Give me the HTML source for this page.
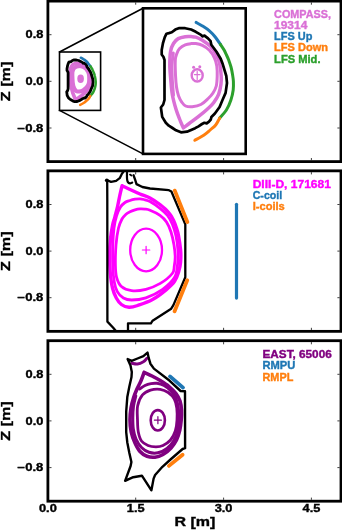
<!DOCTYPE html>
<html><head><meta charset="utf-8"><style>
html,body{margin:0;padding:0;background:#fff;width:342px;height:531px;overflow:hidden}
svg{display:block;will-change:transform}
text{font-family:"Liberation Sans",sans-serif;font-weight:bold;stroke-width:0.35px}
</style></head><body>
<svg width="342" height="531" viewBox="0 0 342 531">
<rect width="342" height="531" fill="#fff"/>
<g>
<path d="M75.7,100.0 C75.5,99.5 75.0,98.5 74.5,97.3 C74.0,96.1 73.3,94.4 72.7,92.6 C72.2,90.9 71.6,88.8 71.3,86.8 C70.9,84.8 70.8,82.8 70.6,80.8 C70.5,78.8 70.2,76.7 70.2,74.7 C70.2,72.8 70.3,70.6 70.5,69.2 C70.8,67.8 71.2,67.0 71.7,66.1 C72.2,65.3 72.8,64.6 73.6,64.2 C74.4,63.7 75.5,63.5 76.4,63.4 C77.2,63.3 78.0,63.3 78.7,63.4 C79.5,63.4 79.9,63.3 80.6,63.6 C81.4,63.8 82.3,64.2 83.3,64.8 C84.2,65.4 85.5,66.2 86.4,67.2 C87.4,68.1 88.2,69.3 88.8,70.5 C89.4,71.7 89.9,73.0 90.2,74.5 C90.6,75.9 90.7,77.8 90.8,79.2 C90.9,80.5 90.9,81.1 90.7,82.4 C90.5,83.6 90.2,85.2 89.8,86.5 C89.3,87.7 88.5,88.9 87.8,89.9 C87.0,90.8 86.4,91.4 85.3,92.4 C84.3,93.3 82.7,94.6 81.5,95.6 C80.3,96.5 79.0,97.5 78.0,98.2 C77.0,98.9 76.1,99.7 75.7,100.0" fill="none" stroke="#da70d6" stroke-width="3.6" stroke-linejoin="round" stroke-linecap="round" />
<path d="M71.7,86.8 C71.6,85.8 71.3,82.8 71.2,80.8 C71.1,78.8 71.0,76.5 71.1,74.7 C71.2,72.9 71.5,70.7 71.6,69.9" fill="none" stroke="#da70d6" stroke-width="4.0" stroke-linejoin="round" stroke-linecap="round" />
<path d="M72.4,72.7 C72.5,71.3 72.7,71.0 73.0,70.2 C73.3,69.4 73.6,68.8 74.1,68.2 C74.7,67.6 75.6,67.0 76.4,66.6 C77.2,66.3 78.0,66.2 78.7,66.2 C79.5,66.1 79.9,66.0 80.6,66.2 C81.4,66.3 82.4,66.4 83.3,66.9 C84.2,67.3 85.3,68.0 86.1,68.8 C86.9,69.7 87.6,70.9 88.1,71.9 C88.6,73.0 88.9,73.9 89.0,75.1 C89.2,76.3 89.2,77.8 89.2,79.2 C89.2,80.5 89.1,82.0 88.8,83.2 C88.6,84.3 88.1,85.1 87.5,86.0 C87.0,86.8 86.4,87.4 85.6,88.2 C84.8,88.9 83.7,90.0 82.7,90.6 C81.6,91.1 80.2,91.4 79.2,91.5 C78.2,91.6 77.2,91.5 76.5,91.2 C75.9,90.9 75.5,90.4 75.1,89.7 C74.6,89.0 74.1,88.2 73.7,87.2 C73.4,86.2 73.1,85.0 72.9,83.6 C72.7,82.2 72.6,80.6 72.5,78.8 C72.4,76.9 72.3,74.2 72.4,72.7 Z" fill="none" stroke="#da70d6" stroke-width="4.0" stroke-linejoin="round" stroke-linecap="round" />
<ellipse cx="80.6" cy="78.7" rx="3.3" ry="4.2" fill="#da70d6"/>
<path d="M68.9,62.2 L69.9,61.9 L71.0,61.6 L72.4,60.5 L74.1,59.9 L76.4,60.0 L78.7,60.5 L80.6,61.4 L82.7,62.6 L83.3,63.3 L84.1,63.0 L85.5,64.1 L86.6,65.2 L86.8,66.6 L88.9,69.4 L90.6,72.2 L91.4,74.5 L92.8,79.2 L93.1,82.0 L92.6,85.9 L91.3,88.8 L90.2,91.6 L88.3,94.2 L86.9,95.6 L86.6,96.6 L85.9,97.4 L85.0,98.2 L84.1,97.9 L83.1,98.4 L81.7,99.3 L80.4,100.1 L77.1,101.5 L74.7,101.7 L72.7,100.9 L71.3,100.0 L69.8,99.1 L68.6,97.9 L67.2,95.6 L66.7,91.8 L67.6,90.6 L68.1,88.8 L68.1,72.7 L67.7,71.5 L67.0,70.5 L67.0,68.7 L67.5,65.9 L68.2,63.6 Z" fill="none" stroke="#000" stroke-width="2.8" stroke-linejoin="round" stroke-linecap="round" />
<path d="M80.8,57.7 C81.2,57.9 82.4,58.5 83.3,59.1 C84.2,59.6 85.2,60.3 86.1,61.0 C86.9,61.7 87.5,62.4 88.2,63.3 C89.0,64.2 90.1,65.9 90.5,66.4" fill="none" stroke="#1f77b4" stroke-width="2.5" stroke-linejoin="round" stroke-linecap="round" stroke-linecap="butt"/>
<path d="M90.5,66.4 C90.7,66.8 91.5,68.0 92.0,68.7 C92.4,69.4 92.6,70.1 92.9,70.7 C93.2,71.4 93.5,71.9 93.8,72.7 C94.1,73.5 94.5,74.5 94.7,75.5 C95.0,76.5 95.2,77.8 95.4,78.8 C95.5,79.7 95.6,80.4 95.7,81.4 C95.7,82.4 95.8,83.5 95.6,84.8 C95.4,86.0 95.1,87.4 94.7,88.8 C94.2,90.1 93.6,91.6 92.9,92.8 C92.1,94.0 90.6,95.5 90.2,96.1" fill="none" stroke="#2ca02c" stroke-width="2.5" stroke-linejoin="round" stroke-linecap="round" stroke-linecap="butt"/>
<path d="M90.2,96.1 C89.9,96.5 89.2,98.0 88.6,98.8 C88.0,99.6 87.2,100.1 86.4,100.8 C85.6,101.5 85.0,102.1 84.0,102.8 C82.9,103.5 80.9,104.6 80.2,104.9" fill="none" stroke="#ff7f0e" stroke-width="2.5" stroke-linejoin="round" stroke-linecap="round" stroke-linecap="butt"/>
<rect x="59.5" y="52.0" width="41.1" height="58.4" fill="none" stroke="#000" stroke-width="1.6"/>
<path d="M59.5,52.0 L143.0,8.3 M59.5,110.4 L143.0,153.9" fill="none" stroke="#000" stroke-width="1.6" stroke-linejoin="round" stroke-linecap="round" />
<rect x="143.0" y="8.3" width="102.7" height="145.6" fill="#fff" stroke="#000" stroke-width="2.6"/>
<path d="M183.4,127.9 C182.9,126.8 181.7,124.3 180.5,121.3 C179.3,118.2 177.4,114.0 176.1,109.6 C174.8,105.2 173.3,99.9 172.4,95.0 C171.5,90.1 171.2,85.0 170.8,80.0 C170.4,75.0 169.8,69.8 169.8,65.0 C169.8,60.2 170.0,54.8 170.6,51.2 C171.2,47.6 172.2,45.6 173.5,43.5 C174.8,41.4 176.2,39.7 178.2,38.6 C180.1,37.5 183.0,37.0 185.2,36.7 C187.3,36.4 189.3,36.5 191.1,36.6 C192.9,36.7 193.9,36.6 195.8,37.2 C197.7,37.8 200.0,38.8 202.4,40.3 C204.8,41.8 208.0,43.7 210.3,46.1 C212.6,48.5 214.6,51.5 216.2,54.5 C217.8,57.5 219.0,60.7 219.8,64.3 C220.6,67.9 221.0,72.7 221.2,76.0 C221.4,79.3 221.4,81.0 221.0,84.0 C220.6,87.0 219.8,91.2 218.6,94.3 C217.4,97.4 215.4,100.2 213.6,102.7 C211.8,105.2 210.1,106.6 207.5,109.0 C204.9,111.4 201.1,114.5 198.0,116.9 C194.9,119.3 191.6,121.7 189.2,123.5 C186.8,125.3 184.4,127.2 183.4,127.9" fill="none" stroke="#da70d6" stroke-width="3.5" stroke-linejoin="round" stroke-linecap="round" />
<path d="M173.5,95.0 C173.3,92.5 172.6,85.0 172.3,80.0 C172.1,75.0 171.8,69.5 172.0,65.0 C172.2,60.5 173.1,55.0 173.3,53.0" fill="none" stroke="#da70d6" stroke-width="3.0" stroke-linejoin="round" stroke-linecap="round" />
<path d="M175.3,60.0 C175.5,56.5 176.1,55.6 176.8,53.7 C177.5,51.8 178.2,50.1 179.6,48.6 C181.0,47.1 183.3,45.6 185.2,44.8 C187.1,44.0 189.3,43.8 191.1,43.6 C192.9,43.4 193.9,43.3 195.8,43.6 C197.7,43.9 200.1,44.3 202.4,45.4 C204.7,46.5 207.4,48.2 209.4,50.3 C211.4,52.4 213.3,55.4 214.5,58.0 C215.7,60.6 216.4,63.0 216.8,66.0 C217.2,69.0 217.3,72.7 217.2,76.0 C217.1,79.3 217.0,83.2 216.3,86.0 C215.6,88.8 214.3,90.9 213.0,93.0 C211.7,95.1 210.2,96.6 208.2,98.5 C206.2,100.4 203.6,103.1 200.9,104.5 C198.2,105.9 194.8,106.5 192.2,106.8 C189.6,107.0 187.3,106.8 185.6,106.0 C183.9,105.2 183.1,104.0 181.9,102.3 C180.7,100.6 179.5,98.5 178.6,96.0 C177.7,93.5 177.0,90.5 176.5,87.0 C176.0,83.5 175.7,79.5 175.5,75.0 C175.3,70.5 175.1,63.5 175.3,60.0 Z" fill="none" stroke="#da70d6" stroke-width="3.0" stroke-linejoin="round" stroke-linecap="round" />
<ellipse cx="197.2" cy="75.4" rx="5.50" ry="6.10" fill="none" stroke="#da70d6" stroke-width="2.4"/>
<path d="M197.2,71.4 v8 M194.4,74.6 h5.6" fill="none" stroke="#da70d6" stroke-width="1.2" stroke-linejoin="round" stroke-linecap="round" />
<circle cx="193.6" cy="67.2" r="1.5" fill="#da70d6"/><circle cx="199.8" cy="66.7" r="1.5" fill="#da70d6"/>
<path d="M166.5,33.7 L168.9,33.1 L171.8,32.3 L175.3,29.6 L179.4,28.0 L185.2,28.2 L191.1,29.5 L195.8,31.8 L201.0,34.8 L202.4,36.4 L204.5,35.6 L208.0,38.4 L210.6,41.2 L211.3,44.7 L216.5,51.7 L220.7,58.7 L222.8,64.3 L226.3,76.0 L227.0,83.0 L225.6,92.9 L222.5,100.0 L219.6,107.0 L214.9,113.5 L211.4,117.0 L210.8,119.5 L209.0,121.6 L206.7,123.4 L204.4,122.8 L202.0,124.0 L198.5,126.3 L195.2,128.2 L187.0,131.7 L181.0,132.3 L176.0,130.3 L172.5,128.0 L168.8,125.7 L165.8,122.8 L162.2,116.9 L160.9,107.5 L163.2,104.5 L164.5,100.0 L164.5,60.0 L163.5,57.0 L161.7,54.5 L161.7,50.0 L163.0,43.0 L164.8,37.2 Z" fill="none" stroke="#000" stroke-width="2.7" stroke-linejoin="round" stroke-linecap="round" />
<path d="M196.1,22.4 C197.2,23.0 200.2,24.5 202.4,25.9 C204.6,27.3 207.3,29.0 209.4,30.8 C211.5,32.6 213.0,34.2 214.8,36.5 C216.6,38.8 219.5,43.0 220.4,44.3" fill="none" stroke="#1f77b4" stroke-width="3.0" stroke-linejoin="round" stroke-linecap="round" stroke-linecap="butt"/>
<path d="M220.4,44.3 C221.0,45.2 223.1,48.2 224.1,50.0 C225.1,51.8 225.7,53.3 226.5,55.0 C227.3,56.7 227.9,58.0 228.7,60.0 C229.4,62.0 230.3,64.5 231.0,67.0 C231.7,69.5 232.2,72.6 232.6,75.0 C233.0,77.4 233.3,79.0 233.4,81.5 C233.5,84.0 233.6,86.9 233.2,90.0 C232.8,93.1 232.0,96.7 230.9,100.0 C229.8,103.3 228.3,107.0 226.4,110.0 C224.5,113.0 220.7,116.8 219.6,118.2" fill="none" stroke="#2ca02c" stroke-width="3.0" stroke-linejoin="round" stroke-linecap="round" stroke-linecap="butt"/>
<path d="M219.6,118.2 C218.9,119.3 217.3,123.0 215.7,125.0 C214.1,127.0 212.1,128.3 210.2,130.0 C208.3,131.7 206.7,133.3 204.1,135.0 C201.5,136.7 196.4,139.4 194.8,140.3" fill="none" stroke="#ff7f0e" stroke-width="3.0" stroke-linejoin="round" stroke-linecap="round" stroke-linecap="butt"/>
<path d="M122.1,185.7 C123.4,186.3 127.0,188.1 130.0,189.5 C133.0,190.9 136.7,192.6 140.0,194.0 C143.3,195.4 146.7,196.2 150.0,198.0 C153.3,199.8 157.3,202.5 160.0,204.5 C162.7,206.5 164.2,208.1 166.0,209.8 C167.8,211.6 169.2,213.2 170.5,215.0 C171.8,216.8 172.6,218.4 173.6,220.5 C174.6,222.6 175.5,225.1 176.3,227.5 C177.1,229.9 177.7,231.2 178.4,235.0 C179.1,238.8 180.2,245.5 180.6,250.0 C181.0,254.5 180.9,258.3 180.6,262.0 C180.3,265.7 179.6,268.8 178.6,272.0 C177.6,275.2 176.6,278.5 174.6,281.4 C172.6,284.3 170.2,286.5 166.4,289.6 C162.7,292.7 156.9,297.2 152.1,299.8 C147.3,302.4 141.5,304.2 137.7,305.5 C133.8,306.8 131.7,307.5 129.0,307.3 C126.3,307.1 123.5,306.1 121.4,304.5 C119.3,302.9 117.8,300.8 116.3,298.0 C114.8,295.2 113.5,292.2 112.5,288.0 C111.5,283.8 110.8,278.5 110.3,273.0 C109.8,267.5 109.5,260.8 109.6,255.0 C109.6,249.2 110.1,243.0 110.6,238.0 C111.1,233.0 111.9,228.5 112.6,225.0 C113.3,221.5 114.1,219.9 114.9,216.8 C115.7,213.7 116.8,209.9 117.6,206.3 C118.4,202.7 119.2,198.4 119.9,195.0 C120.7,191.6 121.7,187.2 122.1,185.7" fill="none" stroke="#ff00ff" stroke-width="3.4" stroke-linejoin="round" stroke-linecap="round" />
<path d="M116.5,216.0 C117.6,212.5 119.1,209.2 120.5,207.0 C121.9,204.8 123.4,203.6 125.0,202.5 C126.6,201.4 128.3,201.1 130.0,200.5 C131.7,199.9 133.3,199.5 135.0,199.2 C136.7,198.9 138.3,198.7 140.0,198.8 C141.7,198.9 143.3,199.4 145.0,199.8 C146.7,200.2 147.5,200.1 150.0,201.5 C152.5,202.9 157.1,206.0 160.0,208.3 C162.9,210.6 165.4,212.8 167.5,215.5 C169.6,218.2 171.1,221.1 172.5,224.5 C173.9,227.9 175.1,231.8 176.0,236.0 C176.9,240.2 177.6,245.3 177.9,250.0 C178.2,254.7 178.2,259.4 177.6,264.0 C177.0,268.6 177.1,273.0 174.6,277.3 C172.1,281.6 167.1,286.2 162.3,289.6 C157.5,293.0 151.0,296.1 145.9,297.8 C140.8,299.5 135.3,300.0 131.6,300.0 C127.8,300.0 125.8,299.4 123.4,298.0 C121.0,296.6 118.8,294.3 117.3,291.6 C115.8,288.9 115.0,286.3 114.3,282.0 C113.5,277.7 113.0,272.2 112.8,266.0 C112.5,259.8 112.6,251.3 112.8,245.0 C113.0,238.7 113.4,232.8 114.0,228.0 C114.6,223.2 115.4,219.5 116.5,216.0 Z" fill="none" stroke="#ff00ff" stroke-width="2.8" stroke-linejoin="round" stroke-linecap="round" />
<path d="M118.5,228.0 C119.5,223.7 120.8,221.3 122.0,219.0 C123.2,216.7 124.7,215.4 126.0,214.2 C127.3,213.0 128.5,212.5 130.0,211.8 C131.5,211.1 133.3,210.3 135.0,209.8 C136.7,209.3 138.3,209.0 140.0,208.9 C141.7,208.8 143.3,208.9 145.0,209.1 C146.7,209.3 147.5,209.2 150.0,210.2 C152.5,211.2 157.2,213.3 160.0,215.3 C162.8,217.3 164.7,219.2 166.5,222.0 C168.3,224.8 169.8,228.2 171.0,232.0 C172.2,235.8 173.3,240.8 174.0,245.0 C174.7,249.2 175.1,253.5 175.2,257.0 C175.2,260.5 174.8,263.2 174.3,266.0 C173.8,268.8 174.6,270.6 172.3,273.5 C170.0,276.4 164.7,280.8 160.3,283.4 C155.9,286.0 150.7,288.1 145.9,289.3 C141.1,290.5 135.7,291.1 131.6,290.6 C127.5,290.1 123.9,288.7 121.4,286.5 C118.9,284.3 117.6,280.9 116.6,277.3 C115.6,273.7 115.5,270.4 115.4,265.0 C115.3,259.6 115.5,251.2 116.0,245.0 C116.5,238.8 117.5,232.3 118.5,228.0 Z" fill="none" stroke="#ff00ff" stroke-width="2.8" stroke-linejoin="round" stroke-linecap="round" />
<ellipse cx="146.1" cy="250.0" rx="15.9" ry="21.3" fill="none" stroke="#ff00ff" stroke-width="2.3"/>
<path d="M146.1,246.3 v7.4 M142.4,250 h7.4" fill="none" stroke="#ff00ff" stroke-width="1.2" stroke-linejoin="round" stroke-linecap="round" />
<path d="M123.4,171.9 L121.9,173.8 L119.7,178.2 L116.1,180.9 L111.0,181.9 L107.2,180.3 L107.3,200.0 L107.4,321.6 L113.2,327.7 L115.5,330.5" fill="none" stroke="#000" stroke-width="2.3" stroke-linejoin="round" stroke-linecap="round" />
<path d="M128.0,331.0 L128.0,323.3 L150.9,323.3 L152.6,320.7 L171.2,308.7 L173.4,305.1 L185.3,277.3 L185.3,224.4 L171.4,191.5 L168.9,190.2 L150.0,188.5 L142.4,187.0 L136.5,184.1 L135.1,179.7 L133.6,175.3" fill="none" stroke="#000" stroke-width="2.3" stroke-linejoin="round" stroke-linecap="round" />
<path d="M127.0,172.4 C127.0,173.4 126.9,176.6 127.0,178.2 C127.1,179.8 127.3,181.0 127.8,181.9 C128.3,182.8 129.3,183.3 130.0,183.4 C130.7,183.5 131.8,182.7 132.2,182.6" fill="none" stroke="#000" stroke-width="2.2" stroke-linejoin="round" stroke-linecap="round" />
<path d="M130.0,174.6 L131.4,175.6" fill="none" stroke="#000" stroke-width="1.8" stroke-linejoin="round" stroke-linecap="round" />
<circle cx="106.8" cy="180.3" r="1.9" fill="#000"/>
<path d="M174.8,190.6 L187.3,222.0 M187.2,280.3 L174.6,311.3" fill="none" stroke="#ff7f0e" stroke-width="3.8" stroke-linejoin="round" stroke-linecap="round" stroke-linecap="butt"/>
<path d="M236.5,204.3 V298.1" fill="none" stroke="#1f77b4" stroke-width="3.2" stroke-linejoin="round" stroke-linecap="round" />
<path d="M144.1,372.4 C145.4,373.0 149.3,374.6 152.0,376.0 C154.7,377.4 157.4,378.8 160.2,380.5 C163.0,382.2 166.4,384.3 169.0,386.5 C171.6,388.7 174.2,391.1 176.0,393.5 C177.8,395.9 179.1,398.2 180.0,401.0 C180.9,403.8 181.3,406.8 181.5,410.0 C181.7,413.2 181.5,416.7 181.2,420.0 C180.9,423.3 180.6,426.7 179.8,430.0 C179.0,433.3 178.0,437.0 176.5,440.0 C175.0,443.0 173.2,445.6 171.0,448.0 C168.8,450.4 165.7,453.0 163.0,454.5 C160.3,456.0 157.7,456.9 155.0,457.2 C152.3,457.5 149.5,457.2 147.0,456.3 C144.5,455.4 142.0,453.7 140.0,451.5 C138.0,449.3 136.5,446.2 135.0,443.0 C133.5,439.8 132.0,435.8 131.2,432.0 C130.4,428.2 130.0,424.0 130.0,420.0 C130.0,416.0 130.4,411.7 131.0,408.0 C131.6,404.3 132.5,401.2 133.5,398.0 C134.5,394.8 135.8,391.8 137.0,389.0 C138.2,386.2 139.7,383.8 140.9,381.0 C142.1,378.2 143.6,373.8 144.1,372.4" fill="none" stroke="#800080" stroke-width="3.6" stroke-linejoin="round" stroke-linecap="round" />
<path d="M139.5,389.0 C140.4,388.4 143.1,386.4 145.0,385.5 C146.9,384.6 149.0,384.0 151.0,383.6 C153.0,383.2 154.8,383.0 157.0,383.3 C159.2,383.6 161.8,384.3 164.0,385.5 C166.2,386.7 168.6,388.5 170.5,390.5 C172.4,392.5 174.2,394.8 175.5,397.5 C176.8,400.2 177.6,403.2 178.2,407.0 C178.8,410.8 178.9,416.0 178.8,420.0 C178.7,424.0 178.4,427.5 177.5,431.0 C176.6,434.5 175.2,438.1 173.5,441.0 C171.8,443.9 169.6,446.5 167.0,448.5 C164.4,450.5 161.0,452.2 158.0,452.8 C155.0,453.4 151.8,453.2 149.0,452.3 C146.2,451.4 143.7,449.7 141.5,447.5 C139.3,445.3 137.4,442.1 136.0,439.0 C134.6,435.9 133.8,432.5 133.3,429.0 C132.8,425.5 132.8,421.8 132.8,418.0 C132.8,414.2 133.0,409.7 133.5,406.0 C134.0,402.3 135.4,397.7 135.8,396.0" fill="none" stroke="#800080" stroke-width="3.0" stroke-linejoin="round" stroke-linecap="round" />
<path d="M137.6,406.0 C138.4,401.8 140.3,397.5 142.5,394.9 C144.7,392.2 147.6,391.0 150.5,390.1 C153.4,389.2 157.2,388.9 160.2,389.3 C163.1,389.7 165.8,390.9 168.2,392.5 C170.5,394.1 172.9,396.4 174.3,399.0 C175.7,401.6 176.4,404.5 176.8,408.0 C177.2,411.5 177.2,416.2 177.0,420.0 C176.8,423.8 176.4,427.7 175.3,431.0 C174.2,434.3 172.6,437.6 170.5,440.0 C168.4,442.4 165.4,444.4 163.0,445.5 C160.6,446.6 158.5,446.8 156.0,446.8 C153.5,446.8 150.4,446.5 148.0,445.5 C145.6,444.5 143.1,443.2 141.5,441.0 C139.9,438.8 139.0,435.5 138.3,432.0 C137.6,428.5 137.6,424.3 137.5,420.0 C137.4,415.7 136.8,410.2 137.6,406.0 Z" fill="none" stroke="#800080" stroke-width="2.8" stroke-linejoin="round" stroke-linecap="round" />
<ellipse cx="157.8" cy="420.3" rx="7.1" ry="10.2" fill="none" stroke="#800080" stroke-width="2.6"/>
<path d="M157.9,416.7 v7 M154.4,420.2 h7" fill="none" stroke="#800080" stroke-width="1.2" stroke-linejoin="round" stroke-linecap="round" />
<path d="M131.7,363.3 C132.7,363.4 135.6,364.3 137.5,364.0 C139.4,363.7 141.8,362.6 143.4,361.7 C145.0,360.8 146.3,358.9 146.9,358.3" fill="none" stroke="#800080" stroke-width="2.9" stroke-linejoin="round" stroke-linecap="round" />
<path d="M127.6,359.0 L131.7,360.8 L137.5,358.5 L143.4,356.1 L147.5,352.6 L148.7,357.9 L150.4,363.7 L153.9,368.6 L169.7,380.8 L180.6,391.0 L185.0,391.3 L185.1,448.2 L182.6,449.0 L170.5,459.5 L162.4,466.8 L155.1,475.0 L153.6,478.6 L151.4,490.3 L141.9,475.7 L133.2,477.2 L125.1,480.8 L130.6,466.0 L131.4,462.0 L129.3,452.8 L127.3,442.5 L126.2,432.2 L126.2,411.5 L127.3,397.1 L129.3,386.8 L131.5,377.0 L131.8,371.9 L130.5,365.5 Z" fill="none" stroke="#000" stroke-width="2.4" stroke-linejoin="round" stroke-linecap="round" />
<path d="M170.0,376.4 L183.0,387.6" fill="none" stroke="#1f77b4" stroke-width="3.8" stroke-linejoin="round" stroke-linecap="round" stroke-linecap="butt"/>
<path d="M182.6,454.7 L168.9,465.9" fill="none" stroke="#ff7f0e" stroke-width="3.8" stroke-linejoin="round" stroke-linecap="round" stroke-linecap="butt"/>
<rect x="47.9" y="1.1" width="293.1" height="160.5" fill="none" stroke="#000" stroke-width="2.8"/>
<path d="M135.7,2.5 v2.2 M135.7,160.2 v-2.2 M223.6,2.5 v2.2 M223.6,160.2 v-2.2 M311.4,2.5 v2.2 M311.4,160.2 v-2.2 M49.3,128.0 h2.2 M339.6,128.0 h-2.2 M49.3,81.3 h2.2 M339.6,81.3 h-2.2 M49.3,34.7 h2.2 M339.6,34.7 h-2.2" stroke="#000" stroke-width="0.75" fill="none"/>
<text x="25.60" y="38.36" font-size="10.2" fill="#000" stroke="#000" text-anchor="start" textLength="17.8" lengthAdjust="spacingAndGlyphs" >0.8</text>
<text x="25.60" y="85.00" font-size="10.2" fill="#000" stroke="#000" text-anchor="start" textLength="17.8" lengthAdjust="spacingAndGlyphs" >0.0</text>
<text x="17.60" y="131.64" font-size="10.2" fill="#000" stroke="#000" text-anchor="start" textLength="25.8" lengthAdjust="spacingAndGlyphs" >&#8722;0.8</text>
<text transform="translate(10.4,101.15) rotate(-90)" font-size="13.2" fill="#000" stroke="#000" textLength="39.5" lengthAdjust="spacingAndGlyphs">Z [m]</text>
<rect x="47.9" y="170.85" width="293.1" height="160.5" fill="none" stroke="#000" stroke-width="2.8"/>
<path d="M135.7,172.2 v2.2 M135.7,330.0 v-2.2 M223.6,172.2 v2.2 M223.6,330.0 v-2.2 M311.4,172.2 v2.2 M311.4,330.0 v-2.2 M49.3,297.7 h2.2 M339.6,297.7 h-2.2 M49.3,251.1 h2.2 M339.6,251.1 h-2.2 M49.3,204.5 h2.2 M339.6,204.5 h-2.2" stroke="#000" stroke-width="0.75" fill="none"/>
<text x="25.60" y="208.11" font-size="10.2" fill="#000" stroke="#000" text-anchor="start" textLength="17.8" lengthAdjust="spacingAndGlyphs" >0.8</text>
<text x="25.60" y="254.75" font-size="10.2" fill="#000" stroke="#000" text-anchor="start" textLength="17.8" lengthAdjust="spacingAndGlyphs" >0.0</text>
<text x="17.60" y="301.39" font-size="10.2" fill="#000" stroke="#000" text-anchor="start" textLength="25.8" lengthAdjust="spacingAndGlyphs" >&#8722;0.8</text>
<text transform="translate(10.4,270.90) rotate(-90)" font-size="13.2" fill="#000" stroke="#000" textLength="39.5" lengthAdjust="spacingAndGlyphs">Z [m]</text>
<rect x="47.9" y="340.7" width="293.1" height="160.5" fill="none" stroke="#000" stroke-width="2.8"/>
<path d="M135.7,342.1 v2.2 M135.7,499.8 v-2.2 M223.6,342.1 v2.2 M223.6,499.8 v-2.2 M311.4,342.1 v2.2 M311.4,499.8 v-2.2 M49.3,467.6 h2.2 M339.6,467.6 h-2.2 M49.3,420.9 h2.2 M339.6,420.9 h-2.2 M49.3,374.3 h2.2 M339.6,374.3 h-2.2" stroke="#000" stroke-width="0.75" fill="none"/>
<text x="25.60" y="377.96" font-size="10.2" fill="#000" stroke="#000" text-anchor="start" textLength="17.8" lengthAdjust="spacingAndGlyphs" >0.8</text>
<text x="25.60" y="424.60" font-size="10.2" fill="#000" stroke="#000" text-anchor="start" textLength="17.8" lengthAdjust="spacingAndGlyphs" >0.0</text>
<text x="17.60" y="471.24" font-size="10.2" fill="#000" stroke="#000" text-anchor="start" textLength="25.8" lengthAdjust="spacingAndGlyphs" >&#8722;0.8</text>
<text transform="translate(10.4,440.75) rotate(-90)" font-size="13.2" fill="#000" stroke="#000" textLength="39.5" lengthAdjust="spacingAndGlyphs">Z [m]</text>
<text x="47.90" y="512.30" font-size="10.2" fill="#000" stroke="#000" text-anchor="middle" textLength="17.8" lengthAdjust="spacingAndGlyphs" >0.0</text>
<text x="135.74" y="512.30" font-size="10.2" fill="#000" stroke="#000" text-anchor="middle" textLength="17.8" lengthAdjust="spacingAndGlyphs" >1.5</text>
<text x="223.58" y="512.30" font-size="10.2" fill="#000" stroke="#000" text-anchor="middle" textLength="17.8" lengthAdjust="spacingAndGlyphs" >3.0</text>
<text x="311.42" y="512.30" font-size="10.2" fill="#000" stroke="#000" text-anchor="middle" textLength="17.8" lengthAdjust="spacingAndGlyphs" >4.5</text>
<text x="174.50" y="525.60" font-size="13.2" fill="#000" stroke="#000" text-anchor="start" textLength="40.9" lengthAdjust="spacingAndGlyphs" >R [m]</text>
<text x="274.10" y="17.70" font-size="10" fill="#da70d6" stroke="#da70d6" text-anchor="start" textLength="56.9" lengthAdjust="spacingAndGlyphs" >COMPASS,</text>
<text x="274.10" y="28.90" font-size="10" fill="#da70d6" stroke="#da70d6" text-anchor="start" textLength="33.2" lengthAdjust="spacingAndGlyphs" >19314</text>
<text x="274.10" y="40.10" font-size="10" fill="#1f77b4" stroke="#1f77b4" text-anchor="start" textLength="38.3" lengthAdjust="spacingAndGlyphs" >LFS Up</text>
<text x="274.10" y="51.30" font-size="10" fill="#ff7f0e" stroke="#ff7f0e" text-anchor="start" textLength="53.9" lengthAdjust="spacingAndGlyphs" >LFS Down</text>
<text x="274.10" y="62.50" font-size="10" fill="#2ca02c" stroke="#2ca02c" text-anchor="start" textLength="46.4" lengthAdjust="spacingAndGlyphs" >LFS Mid.</text>
<text x="252.70" y="187.60" font-size="10" fill="#ff00ff" stroke="#ff00ff" text-anchor="start" textLength="78.2" lengthAdjust="spacingAndGlyphs" >DIII-D, 171681</text>
<text x="252.70" y="198.80" font-size="10" fill="#1f77b4" stroke="#1f77b4" text-anchor="start" textLength="29.5" lengthAdjust="spacingAndGlyphs" >C-coil</text>
<text x="252.70" y="210.00" font-size="10" fill="#ff7f0e" stroke="#ff7f0e" text-anchor="start" textLength="32.1" lengthAdjust="spacingAndGlyphs" >I-coils</text>
<text x="262.50" y="358.20" font-size="10" fill="#800080" stroke="#800080" text-anchor="start" textLength="69.2" lengthAdjust="spacingAndGlyphs" >EAST, 65006</text>
<text x="262.50" y="369.40" font-size="10" fill="#1f77b4" stroke="#1f77b4" text-anchor="start" textLength="32.9" lengthAdjust="spacingAndGlyphs" >RMPU</text>
<text x="262.50" y="380.60" font-size="10" fill="#ff7f0e" stroke="#ff7f0e" text-anchor="start" textLength="30.8" lengthAdjust="spacingAndGlyphs" >RMPL</text>
</g>
</svg>
</body></html>
